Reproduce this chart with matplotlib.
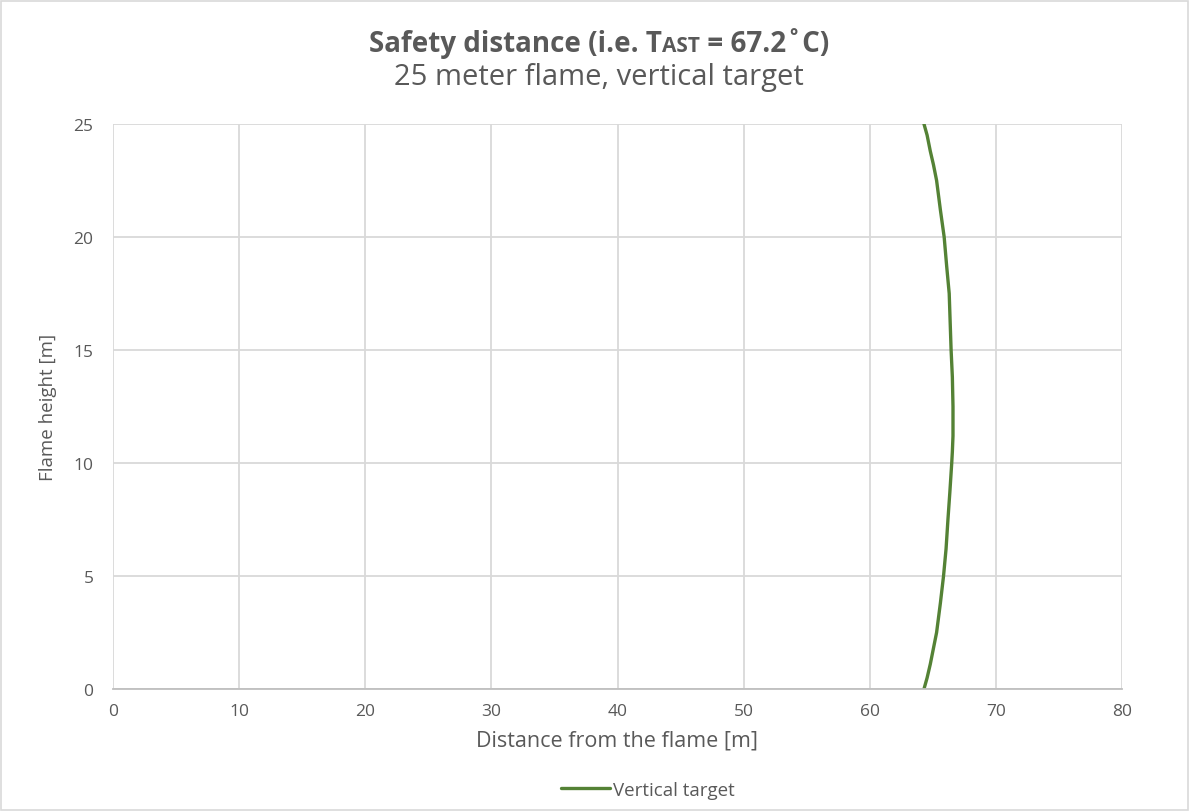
import numpy as np
import matplotlib
matplotlib.use("Agg")
import matplotlib.pyplot as plt
from matplotlib.patches import Rectangle

plt.rcParams['font.family'] = ['Open Sans', 'DejaVu Sans']

# safety distance contour for the vertical target
distance = [64.3, 64.55, 64.8, 65.05, 65.3, 65.6, 65.9, 66.1, 66.3, 66.45, 66.55, 66.6, 66.6, 66.55, 66.5, 66.35, 66.2, 66.05, 65.85, 65.6, 65.3, 65.05, 64.8, 64.55, 64.3]
height = [25.0, 24.5, 23.8, 23.2, 22.5, 21.2, 20.0, 18.7, 17.5, 15.0, 13.8, 12.5, 11.2, 10.5, 10.0, 8.7, 7.5, 6.2, 5.0, 3.8, 2.5, 1.8, 1.1, 0.5, 0.0]

x_ticks = [0, 10, 20, 30, 40, 50, 60, 70, 80]
y_ticks = [0, 5, 10, 15, 20, 25]

grey = '#595959'
grid_grey = '#D9D9D9'
green = '#548235'

fig = plt.figure(figsize=(11.9, 8.12), dpi=100)
ax = fig.add_axes([113/1190, 1 - 690/812, (1122 - 113)/1190, (690 - 125)/812])

ax.plot(distance, height, color=green, lw=2.4, label='Vertical target', solid_capstyle='round')

ax.set_xlim(0, 80)
ax.set_ylim(0, 25)
ax.set_xticks(x_ticks)
ax.set_yticks(y_ticks)
ax.grid(True, color=grid_grey, lw=1.3)
ax.set_axisbelow(True)
for side in ['top', 'right', 'left']:
    ax.spines[side].set_visible(False)
ax.spines['bottom'].set_color('#BFBFBF')
ax.spines['bottom'].set_linewidth(1.3)
ax.tick_params(length=0, labelsize=12.5, labelcolor=grey, pad=10)
ax.tick_params(axis='y', pad=14)

ax.set_xlabel('Distance from the flame [m]', fontsize=15.5, color=grey, labelpad=8)
ax.set_ylabel('Flame height [m]', fontsize=13.5, color=grey, labelpad=12)

# title, with "AST" set in small caps
parts = [('Safety distance (i.e. T', 20), ('AST', 15), (' = 67.2˚C)', 20)]
fig.canvas.draw()
renderer = fig.canvas.get_renderer()
texts = []
widths = []
for s, size in parts:
    t = fig.text(0, 0, s, fontsize=size, fontweight='bold', color=grey, va='baseline', ha='left')
    bb = t.get_window_extent(renderer)
    texts.append(t)
    widths.append(bb.width)
total = sum(widths)
x0 = (599 - total / 2)
base_y = 812 - 52
for t, w in zip(texts, widths):
    t.set_position((x0 / 1190, base_y / 812))
    x0 += w

fig.text(599/1190, 1 - 77/812, '25 meter flame, vertical target', fontsize=21,
         color=grey, ha='center', va='center')

leg = fig.legend(loc='center', bbox_to_anchor=(648/1190, 1 - 791/812), frameon=False,
                 fontsize=13.5, handlelength=2.6, handletextpad=0.2)
for t in leg.get_texts():
    t.set_color(grey)

fig.patches.append(Rectangle((0.001, 0.001), 0.997, 0.997, transform=fig.transFigure,
                             fill=False, edgecolor='#D9D9D9', lw=1.2))

fig.savefig('out.png', dpi=100)
